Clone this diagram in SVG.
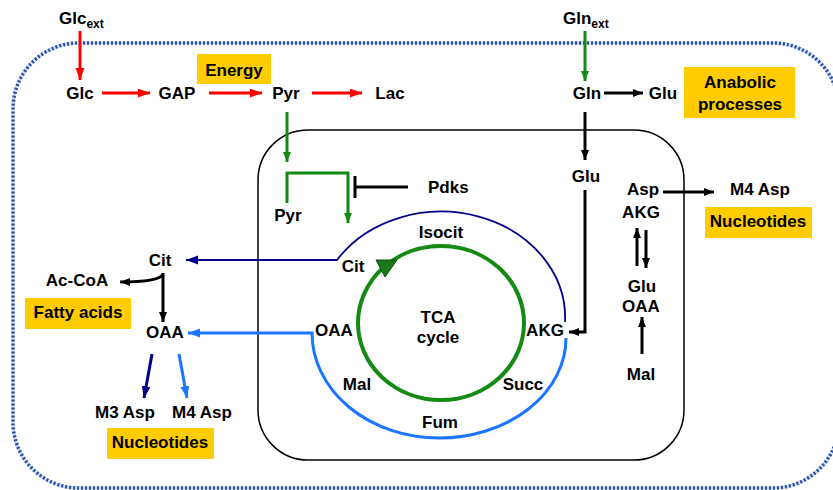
<svg xmlns="http://www.w3.org/2000/svg" width="833" height="490" viewBox="0 0 833 490">
<defs>
<style>
text{font-family:"Liberation Sans",Arial,sans-serif;font-weight:bold;font-size:17px;fill:#000}
.m{text-anchor:middle}
.box{fill:#ffcc00}
.red{stroke:#ff0000;stroke-width:3;fill:none}
.blk{stroke:#000;stroke-width:3;fill:none}
.grn{stroke:#138a13;stroke-width:3;fill:none}
</style>
<marker id="aR" markerUnits="userSpaceOnUse" markerWidth="13" markerHeight="10" refX="12" refY="4.5" orient="auto"><path d="M0,0 L12,4.5 L0,9 z" fill="#ff0000"/></marker>
<marker id="aK" markerUnits="userSpaceOnUse" markerWidth="12" markerHeight="10" refX="10" refY="4" orient="auto"><path d="M0,0 L10,4 L0,8 z" fill="#000"/></marker>
<marker id="aG" markerUnits="userSpaceOnUse" markerWidth="12" markerHeight="10" refX="10" refY="4" orient="auto"><path d="M0,0 L10,4 L0,8 z" fill="#138a13"/></marker>
<marker id="aN" markerUnits="userSpaceOnUse" markerWidth="14" markerHeight="10" refX="12" refY="4.5" orient="auto"><path d="M0,0 L12,4.5 L0,9 z" fill="#00008b"/></marker>
<marker id="aB" markerUnits="userSpaceOnUse" markerWidth="14" markerHeight="10" refX="12" refY="4.5" orient="auto"><path d="M0,0 L12,4.5 L0,9 z" fill="#1a75ff"/></marker>
</defs>
<rect width="833" height="490" fill="#fff"/>
<g id="cell">
<rect x="13" y="43" width="826" height="445" rx="66" ry="66" fill="none" stroke="#d6e0f2" stroke-width="3.5"/>
<rect x="13" y="43" width="826" height="445" rx="66" ry="66" fill="none" stroke="#2450a8" stroke-width="3.5" stroke-dasharray="2 2"/>
</g>
<g id="mito">
<rect x="258" y="130" width="426" height="330" rx="50" ry="50" fill="none" stroke="#000" stroke-width="1.5"/>
</g>
<g id="tca">
<ellipse cx="441" cy="323" rx="83" ry="77" fill="none" stroke="#138a13" stroke-width="4"/>
<polygon points="376,260 397,260 385,277" fill="#1a7a1a" stroke="#0d4d0d" stroke-width="1"/>
</g>
<g id="boxes">
<rect class="box" x="197" y="54" width="74" height="30"/>
<rect class="box" x="684" y="67" width="111" height="51"/>
<rect class="box" x="25" y="298" width="106" height="31"/>
<rect class="box" x="107" y="428" width="107" height="31"/>
<rect class="box" x="705" y="207" width="107" height="31"/>
</g>
<g id="connectors">
<line class="red" x1="80" y1="31" x2="80" y2="80" marker-end="url(#aR)"/>
<line class="red" x1="102" y1="93" x2="150" y2="93" marker-end="url(#aR)"/>
<line class="red" x1="209" y1="93" x2="262" y2="93" marker-end="url(#aR)"/>
<line class="red" x1="312" y1="93" x2="362" y2="93" marker-end="url(#aR)"/>
<line class="grn" x1="585" y1="31" x2="585" y2="81" marker-end="url(#aG)"/>
<line class="blk" x1="604" y1="93" x2="643" y2="93" marker-end="url(#aK)"/>
<line class="blk" x1="585" y1="112" x2="585" y2="160" marker-end="url(#aK)"/>
<polyline class="blk" points="585,190 585,332 569,332" marker-end="url(#aK)"/>
<line class="grn" x1="287" y1="112" x2="287" y2="162" marker-end="url(#aG)"/>
<polyline class="grn" points="287,203 287,173 348,173 348,223" marker-end="url(#aG)"/>
<line class="blk" x1="355" y1="187" x2="408" y2="187"/>
<line class="blk" x1="355" y1="176" x2="355" y2="198"/>
<path d="M565,322 A124,106 0 0,0 337,260 L186,260" fill="none" stroke="#00008b" stroke-width="1.8" marker-end="url(#aN)"/>
<path d="M566,338 A127,100 0 0,1 439,438 A127,105 0 0,1 312,333 L188,333" fill="none" stroke="#1a75ff" stroke-width="3" marker-end="url(#aB)"/>
<line class="blk" x1="163" y1="273" x2="163" y2="322" marker-end="url(#aK)"/>
<path class="blk" d="M163,274 Q160,282 120,282" marker-end="url(#aK)"/>
<line x1="152" y1="354" x2="144" y2="398" stroke="#00008b" stroke-width="3" marker-end="url(#aN)"/>
<line x1="179" y1="354" x2="187" y2="398" stroke="#1a75ff" stroke-width="3" marker-end="url(#aB)"/>
<line class="blk" x1="663" y1="192" x2="714" y2="192" marker-end="url(#aK)"/>
<line class="blk" x1="637" y1="266" x2="637" y2="228" marker-end="url(#aK)"/>
<line class="blk" x1="646" y1="230" x2="646" y2="268" marker-end="url(#aK)"/>
<line class="blk" x1="642" y1="354" x2="642" y2="317" marker-end="url(#aK)"/>
</g>
<g id="labels">
<text x="59" y="24">Glc<tspan font-size="12" dy="4">ext</tspan></text>
<text x="563" y="24">Gln<tspan font-size="12" dy="4">ext</tspan></text>
<text class="m" x="80" y="99">Glc</text>
<text class="m" x="177" y="99">GAP</text>
<text class="m" x="286" y="99">Pyr</text>
<text class="m" x="390" y="99">Lac</text>
<text class="m" x="234" y="76">Energy</text>
<text class="m" x="587" y="99">Gln</text>
<text class="m" x="663" y="99">Glu</text>
<text class="m" x="740" y="88">Anabolic</text>
<text class="m" x="740" y="110">processes</text>
<text class="m" x="586" y="182">Glu</text>
<text x="428" y="193">Pdks</text>
<text class="m" x="288" y="221">Pyr</text>
<text class="m" x="441" y="238">Isocit</text>
<text class="m" x="353" y="272">Cit</text>
<text class="m" x="334" y="336">OAA</text>
<text class="m" x="545" y="336">AKG</text>
<text class="m" x="438" y="323">TCA</text>
<text class="m" x="438" y="343">cycle</text>
<text class="m" x="357" y="390">Mal</text>
<text class="m" x="523" y="390">Succ</text>
<text class="m" x="440" y="428">Fum</text>
<text class="m" x="160" y="266">Cit</text>
<text class="m" x="77" y="286">Ac-CoA</text>
<text class="m" x="78" y="318">Fatty acids</text>
<text class="m" x="165" y="338">OAA</text>
<text class="m" x="125" y="418">M3 Asp</text>
<text class="m" x="202" y="418">M4 Asp</text>
<text class="m" x="160" y="448">Nucleotides</text>
<text class="m" x="643" y="195">Asp</text>
<text class="m" x="641" y="218">AKG</text>
<text class="m" x="760" y="195">M4 Asp</text>
<text class="m" x="758" y="227">Nucleotides</text>
<text class="m" x="642" y="292">Glu</text>
<text class="m" x="641" y="312">OAA</text>
<text class="m" x="641" y="380">Mal</text>
</g>
</svg>
